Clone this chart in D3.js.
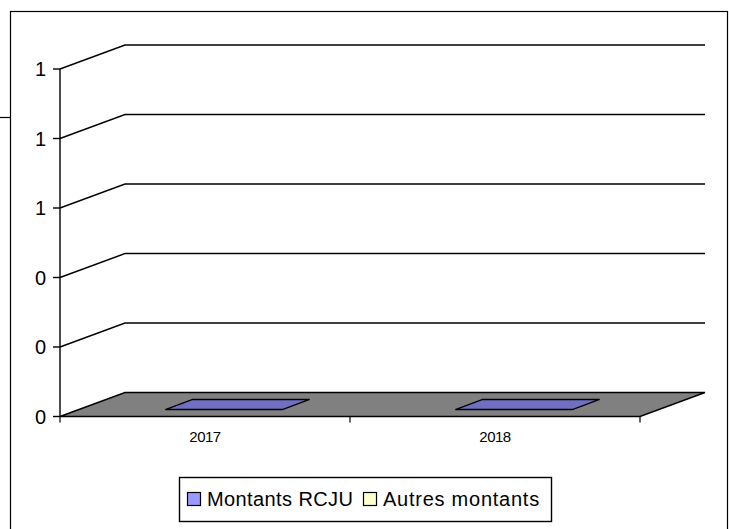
<!DOCTYPE html>
<html><head><meta charset="utf-8">
<script src="https://cdn.jsdelivr.net/npm/d3@7/dist/d3.min.js"></script>
<style>html,body{margin:0;padding:0;background:#fff;}svg{display:block;font-family:"Liberation Sans",Arial,sans-serif;}</style>
</head><body>
<script>
const categories = ["2017", "2018"];
const seriesNames = ["Montants RCJU", "Autres montants"];
const montantsRCJU = [0, 0];
const autresMontants = [0, 0];
const yTicks = [0, 0.2, 0.4, 0.6, 0.8, 1.0];
const seriesColors = ["#9999FF", "#FFFFCC"];
const topColors = ["#7070C2", "#CCCCA3"];

const W = 729, H = 529;
const svg = d3.select("body").append("svg").attr("width", W).attr("height", H);

// outer frame
svg.append("rect").attr("x", 10.5).attr("y", 11.5).attr("width", 717).attr("height", 530)
  .attr("fill", "#fff").attr("stroke", "#000").attr("stroke-width", 1.2);
svg.append("line").attr("x1", 0).attr("x2", 10).attr("y1", 117.5).attr("y2", 117.5)
  .attr("stroke", "#000").attr("stroke-width", 1.2);

const x = d3.scaleBand().domain(categories).range([60, 640]);
const y = d3.scaleLinear().domain([0, 1]).range([416.5, 69]);
const DX = 65, DY = -24;

const g = svg.append("g");

// floor
const y0 = y(0);
g.append("path")
  .attr("d", `M60,${y0}L640,${y0}L${640+DX},${y0+DY}L${60+DX},${y0+DY}Z`)
  .attr("fill", "#808080").attr("stroke", "#000").attr("stroke-width", 1.4);

// gridlines
yTicks.filter(v => v > 0).forEach(v => {
  const yy = y(v);
  g.append("path")
    .attr("d", `M60,${yy}L${60+DX},${yy+DY}L${640+DX},${yy+DY}`)
    .attr("fill", "none").attr("stroke", "#000").attr("stroke-width", 1.4);
});

// vertical axis
g.append("line").attr("x1", 60).attr("x2", 60).attr("y1", y(1)).attr("y2", y0)
  .attr("stroke", "#000").attr("stroke-width", 1.4);
yTicks.forEach(v => {
  g.append("line").attr("x1", 53).attr("x2", 60).attr("y1", y(v)).attr("y2", y(v))
    .attr("stroke", "#000").attr("stroke-width", 1.4);
  g.append("text").attr("x", 46).attr("y", y(v)).attr("dy", "0.35em")
    .attr("text-anchor", "end").attr("font-size", 20).text(d3.format(".0f")(v));
});

// category axis ticks
[60, 350, 640].forEach(xx => {
  g.append("line").attr("x1", xx).attr("x2", xx).attr("y1", y0).attr("y2", y0 + 6)
    .attr("stroke", "#000").attr("stroke-width", 1.2);
});
categories.forEach(c => {
  g.append("text").attr("x", x(c) + x.bandwidth() / 2).attr("y", 437).attr("dy", "0.35em")
    .attr("text-anchor", "middle").attr("font-size", 15).attr("letter-spacing", -0.5).text(c);
});

// bars (stacked, both series)
const f1 = 0.29, f2 = 0.71;
const barW = 117;
const order = [1, 0]; // draw Autres first (bottom), then RCJU on top
categories.forEach((c, i) => {
  let base = 0;
  order.forEach(s => {
    const v = s === 0 ? montantsRCJU[i] : autresMontants[i];
    const cx = x(c) + x.bandwidth() / 2;
    const xl = cx - barW / 2 + f1 * DX, xr = cx + barW / 2 + f1 * DX;
    const yb = y(base) + f1 * DY, yt = y(base + v) + f1 * DY;
    const ddx = (f2 - f1) * DX, ddy = (f2 - f1) * DY;
    if (v > 0) {
      g.append("rect").attr("x", xl).attr("y", yt).attr("width", barW).attr("height", yb - yt)
        .attr("fill", seriesColors[s]).attr("stroke", "#000");
      g.append("path").attr("d", `M${xr},${yt}L${xr+ddx},${yt+ddy}L${xr+ddx},${yb+ddy}L${xr},${yb}Z`)
        .attr("fill", topColors[s]).attr("stroke", "#000");
    }
    if (s === 0 || v > 0) {
      g.append("path").attr("d", `M${xl},${yt}L${xr},${yt}L${xr+ddx},${yt+ddy}L${xl+ddx},${yt+ddy}Z`)
        .attr("fill", topColors[s]).attr("stroke", "#000").attr("stroke-width", 1.4);
    }
    base += v;
  });
});

// legend
const lg = svg.append("g");
lg.append("rect").attr("x", 179.5).attr("y", 477.5).attr("width", 372).attr("height", 44)
  .attr("fill", "#fff").attr("stroke", "#000").attr("stroke-width", 1.4);
const legX = [187, 363];
seriesNames.forEach((n, i) => {
  lg.append("rect").attr("x", legX[i] + 0.5).attr("y", 492.5).attr("width", 13).attr("height", 13)
    .attr("fill", seriesColors[i]).attr("stroke", "#000").attr("stroke-width", 1.2);
  lg.append("text").attr("x", legX[i] + 20).attr("y", 499).attr("dy", "0.35em")
    .attr("font-size", 20).attr("letter-spacing", i === 0 ? 0.4 : 0.75).text(n);
});
</script>
</body></html>
